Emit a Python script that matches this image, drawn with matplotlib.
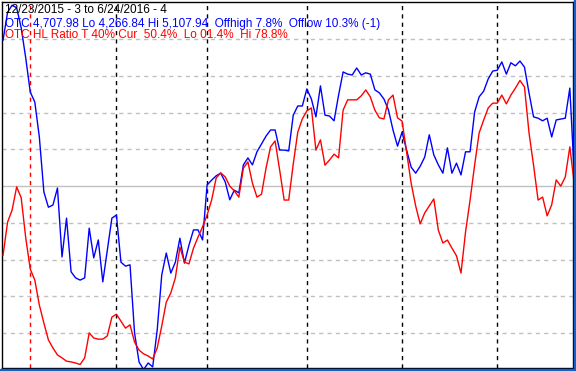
import matplotlib
matplotlib.use("Agg")
import matplotlib.pyplot as plt
import numpy as np
from matplotlib.patches import Rectangle

# OTC (Nasdaq composite) closes, 12/23/2015 .. 6/24/2016
otc_close = [
    5022, 5086, 5102, 5096, 5050, 4981, 4903, 4880, 4800, 4674,
    4639, 4644, 4683, 4525, 4614, 4491, 4477, 4472, 4477, 4591,
    4523, 4564, 4468, 4541, 4614, 4621, 4513, 4504, 4507, 4351,
    4284, 4267, 4282, 4273, 4358, 4484, 4534, 4488, 4513, 4568,
    4511, 4552, 4587, 4587, 4564, 4690, 4701, 4711, 4717, 4697,
    4656, 4678, 4672, 4736, 4752, 4736, 4766, 4784, 4802, 4816,
    4816, 4770, 4770, 4768, 4850, 4871, 4871, 4910, 4887, 4846,
    4917, 4850, 4848, 4837, 4896, 4949, 4944, 4942, 4958, 4942,
    4947, 4944, 4908, 4901, 4887, 4862, 4816, 4779, 4811, 4770,
    4731, 4717, 4733, 4754, 4805, 4759, 4736, 4717, 4775, 4717,
    4740, 4713, 4766, 4766, 4857, 4892, 4905, 4933, 4951, 4953,
    4972, 4944, 4970, 4963, 4974, 4960, 4901, 4846, 4843, 4837,
    4843, 4800, 4839, 4841, 4843, 4912, 4707.98,
]

# high/low ratio, percent
hl_ratio = [
    31.2, 40.2, 43.5, 49.8, 46.8, 35.9, 27.4, 24.4, 17.6, 12.7,
    8.1, 5.9, 4.0, 3.2, 2.3, 2.1, 1.8, 1.4, 3.2, 10.0,
    8.6, 8.3, 8.3, 9.2, 14.3, 15.1, 13.2, 11.3, 12.2, 7.5,
    5.3, 4.3, 3.7, 2.9, 5.9, 11.9, 18.4, 20.9, 25.0, 33.4,
    29.3, 28.8, 33.1, 36.1, 38.9, 42.1, 46.2, 52.2, 53.6, 52.5,
    50.0, 48.7, 47.0, 54.9, 56.6, 50.8, 47.0, 47.8, 54.9, 60.7,
    62.3, 54.4, 46.2, 46.2, 56.0, 64.7, 68.3, 70.5, 71.3, 59.8,
    62.6, 55.7, 57.1, 58.7, 57.7, 70.7, 73.5, 73.5, 73.5, 74.6,
    76.2, 74.3, 70.7, 68.6, 68.3, 73.5, 74.8, 68.6, 67.7, 59.3,
    50.8, 44.6, 39.7, 42.7, 44.6, 46.5, 38.0, 34.5, 35.3, 33.1,
    31.0, 26.3, 37.5, 46.2, 55.7, 64.5, 68.0, 71.3, 72.6, 72.6,
    74.8, 72.4, 74.8, 76.7, 78.8, 77.0, 64.5, 55.7, 46.2, 47.0,
    41.9, 44.9, 51.7, 50.0, 52.5, 60.7, 50.4,
]

otc_lo = 4266.84
otc_hi = 5107.94
# trading-day index of first session of Jan .. Jun
month_starts = [6, 25, 45, 67, 88, 109]

header = "12/23/2015 - 3 to 6/24/2016 - 4"
otc_text = "OTC 4,707.98 Lo 4,266.84 Hi 5,107.94  Offhigh 7.8%  Offlow 10.3% (-1)"
ratio_text = "OTC HL Ratio T 40% Cur  50.4%  Lo 01.4%  Hi 78.8%"

W, H = 576, 371
fig = plt.figure(figsize=(W / 100, H / 100), dpi=100)
fig.patch.set_facecolor("white")
ax = fig.add_axes([2 / W, 3 / H, 571 / W, 366 / H])
ax.set_facecolor("white")

x = np.arange(len(otc_close))
otc_pct = (np.array(otc_close) - otc_lo) / (otc_hi - otc_lo) * 100

# grid
for lvl in range(10, 100, 10):
    if lvl == 50:
        ax.axhline(lvl, color="#c0c0c0", lw=1.0, zorder=1)
    else:
        ax.axhline(lvl, color="#c0c0c0", lw=1.0, ls=(0, (3, 3)), zorder=1)
for i, m in enumerate(month_starts):
    col = "#ff0000" if i == 0 else "black"
    ax.axvline(m, color=col, lw=1.0, ls=(0, (3, 3)), zorder=2)

ax.plot(x, otc_pct, color="#0000ff", lw=1.0, zorder=3)
ax.plot(x, hl_ratio, color="#ff0000", lw=1.0, zorder=3)

ax.set_xlim(-0.234, 125.7)
ax.set_ylim(0.44, 100.16)
ax.set_xticks([])
ax.set_yticks([])
for s in ax.spines.values():
    s.set_color("black")
    s.set_linewidth(1.0)

fnt = dict(family="Liberation Sans", fontsize=8.5, va="baseline", ha="left")
fig.text(5 / W, 1 - 13 / H, header, color="black", **fnt)
fig.text(5 / W, 1 - 26.5 / H, otc_text, color="#0000ff", **fnt)
fig.text(5 / W, 1 - 38.5 / H, ratio_text, color="#ff0000", **fnt)

# window frame edges
fig.patches.append(Rectangle((574 / W, 0), 2 / W, 1, transform=fig.transFigure,
                             color="#1060d0", zorder=10))
fig.patches.append(Rectangle((0, 0), 1, 2 / H, transform=fig.transFigure,
                             color="#1060d0", zorder=10))

fig.savefig("out.png", dpi=100, facecolor=fig.get_facecolor())
